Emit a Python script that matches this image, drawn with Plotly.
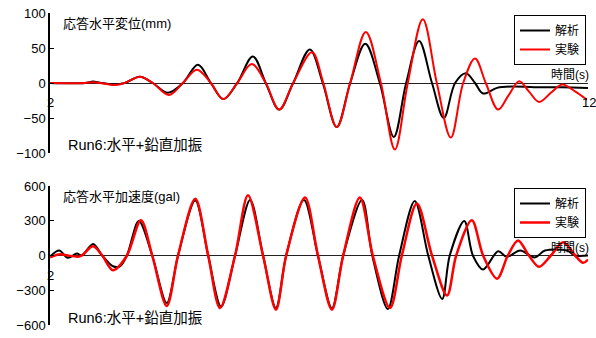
import plotly.graph_objects as go

# ---- Response horizontal displacement (mm) ----
disp_calc_t = [2.00, 2.65, 2.80, 2.93, 3.21, 3.39, 3.67, 3.91, 4.19, 4.47, 4.75, 4.99, 5.22, 5.48,
               5.77, 6.01, 6.26, 6.52, 6.83, 7.07, 7.33, 7.58, 7.86, 8.13, 8.39, 8.62, 8.86, 9.10,
               9.32, 9.53, 9.73, 9.90, 10.05, 10.31, 10.60, 11.00, 11.50, 12.00]
disp_calc = [0, 0, 2, 0.5, -2, 0, 9, 0, -14, 0, 26, 0, -23, 0,
             38, 0, -38, 0, 48, 0, -63, 0, 56, 0, -77, 0, 60, 0,
             -50, 0, 14, 0, -15, -7, -5, -6, -6, -7]

disp_exp_t = [2.00, 2.65, 2.80, 2.93, 3.21, 3.39, 3.67, 3.91, 4.21, 4.47, 4.73, 4.99, 5.22, 5.48,
              5.75, 6.01, 6.26, 6.52, 6.87, 7.08, 7.33, 7.58, 7.87, 8.15, 8.41, 8.65, 8.93, 9.19,
              9.45, 9.68, 9.90, 10.10, 10.33, 10.52, 10.72, 10.90, 11.09, 11.31, 11.52, 11.76, 11.98]
disp_exp = [0, 0, 1, 0, -3, 0, 9, 0, -17, 0, 19, 0, -23, 0,
            27, 0, -38, 0, 44, 0, -63, 0, 73, 0, -95, 0, 91, 0,
            -78, 0, 35, 0, -38, -18, 2.5, -12, -27, -14, -2, -12, -24]

# ---- Response horizontal acceleration (gal) ----
acc_calc_t = [2.00, 2.17, 2.33, 2.50, 2.59, 2.80, 2.97, 3.17, 3.30, 3.43, 3.65, 3.90, 4.17, 4.38,
              4.70, 4.94, 5.18, 5.44, 5.72, 5.96, 6.20, 6.39, 6.72, 6.98, 7.24, 7.45, 7.80, 7.99,
              8.28, 8.49, 8.78, 9.03, 9.29, 9.43, 9.70, 9.86, 10.05, 10.33, 10.49, 10.74, 11.01,
              11.20, 11.61, 11.76, 12.00]
acc_calc = [-10, 43, -20, 17, 0, 100, 0, -93, -93, 0, 297, 0, -410, 0,
            475, 0, -440, 0, 480, 0, -453, 0, 480, 0, -455, 0, 480, 0,
            -461, 0, 470, 0, -375, 0, 297, 0, -121, 37, -11, 43, -17,
            43, 43, 0, 0]

acc_exp_t = [2.00, 2.19, 2.33, 2.52, 2.59, 2.80, 2.97, 3.17, 3.43, 3.69, 3.90, 4.17, 4.38,
             4.70, 4.94, 5.16, 5.44, 5.68, 5.96, 6.20, 6.39, 6.74, 6.98, 7.24, 7.45, 7.76, 8.00,
             8.32, 8.54, 8.82, 9.10, 9.38, 9.55, 9.84, 10.05, 10.31, 10.51, 10.70, 10.90, 11.09,
             11.31, 11.54, 11.76, 11.91, 12.00]
acc_exp = [-15, 10, 0, -10, 0, 80, 0, -127, 0, 305, 0, -435, 0,
           490, 0, -453, 0, 520, 0, -468, 0, 500, 0, -468, 0, 500, 0,
           -453, 0, 450, 0, -346, 0, 305, 0, -200, 0, 130, 0, -98,
           0, 115, 0, -63, -35]

disp_ticks = [-100, -50, 0, 50, 100]
acc_ticks = [-600, -300, 0, 300, 600]
time_range = [2, 12]
name_calc = "解析"
name_exp = "実験"

FONT = "Liberation Sans, Arial, Noto Sans CJK JP, sans-serif"
W, H = 596, 338
X0, X1 = 50 / W, 588 / W


def py(px):
    """Convert a pixel row (from top) to paper y."""
    return 1 - px / H


fig = go.Figure()

fig.add_trace(go.Scatter(x=disp_calc_t, y=disp_calc, name=name_calc, mode="lines",
                         line=dict(color="black", width=2, shape="spline", smoothing=1.0),
                         xaxis="x", yaxis="y", legend="legend"))
fig.add_trace(go.Scatter(x=disp_exp_t, y=disp_exp, name=name_exp, mode="lines",
                         line=dict(color="#ff0000", width=2, shape="spline", smoothing=1.0),
                         xaxis="x", yaxis="y", legend="legend"))
fig.add_trace(go.Scatter(x=acc_calc_t, y=acc_calc, name=name_calc, mode="lines",
                         line=dict(color="black", width=2, shape="spline", smoothing=0.9),
                         xaxis="x2", yaxis="y2", legend="legend2"))
fig.add_trace(go.Scatter(x=acc_exp_t, y=acc_exp, name=name_exp, mode="lines",
                         line=dict(color="#ff0000", width=2.5, shape="spline", smoothing=0.9),
                         xaxis="x2", yaxis="y2", legend="legend2"))

xax = dict(range=time_range, showline=False, showticklabels=False, ticks="",
           showgrid=False, zeroline=False, fixedrange=True, domain=[X0, X1],
           automargin=False)
yax = dict(showline=True, linecolor="black", linewidth=1.5, ticks="inside", ticklen=4,
           tickcolor="black", showgrid=False, zeroline=True, zerolinecolor="#222",
           zerolinewidth=1, automargin=False,
           tickfont=dict(size=13, color="black", family=FONT))

legend_style = dict(bgcolor="white", bordercolor="black", borderwidth=1,
                    font=dict(size=12, color="black", family=FONT),
                    xanchor="left", yanchor="top", tracegroupgap=0, itemwidth=30)

fig.update_layout(
    width=W, height=H, margin=dict(l=0, r=0, t=0, b=0, autoexpand=False),
    paper_bgcolor="white", plot_bgcolor="white",
    font=dict(family=FONT, color="black"),
    xaxis=dict(xax, anchor="y"),
    yaxis=dict(yax, domain=[py(153), py(13)], range=[-100, 100],
               tickvals=disp_ticks, anchor="x"),
    xaxis2=dict(xax, anchor="y2"),
    yaxis2=dict(yax, domain=[py(325), py(186)], range=[-600, 600],
                tickvals=acc_ticks, anchor="x2"),
    legend=dict(legend_style, x=514 / W, y=py(15)),
    legend2=dict(legend_style, x=514 / W, y=py(188)),
    showlegend=True,
)

annos = []
# panel titles and case labels
for xr, yr, title, ty, ry in [("x", "y", "応答水平変位(mm)", 23, 145),
                              ("x2", "y2", "応答水平加速度(gal)", 196, 318)]:
    annos.append(dict(xref="paper", yref="paper", x=61 / W, y=py(ty),
                      text=title, showarrow=False, xanchor="left", yanchor="middle",
                      font=dict(size=13, family=FONT)))
    annos.append(dict(xref="paper", yref="paper", x=66 / W, y=py(ry),
                      text="Run6:水平+鉛直加振", showarrow=False, xanchor="left",
                      yanchor="middle", font=dict(size=14.5, family=FONT)))
    annos.append(dict(xref=xr, yref=yr, x=time_range[1], y=0, text="時間(s)",
                      showarrow=False, xanchor="right", yanchor="bottom", xshift=3, yshift=-1,
                      font=dict(size=12, family=FONT)))
    annos.append(dict(xref=xr, yref=yr, x=time_range[0], y=0, text=str(time_range[0]),
                      showarrow=False, xanchor="center", yanchor="middle", yshift=-20,
                      font=dict(size=13, family=FONT)))
annos.append(dict(xref="x", yref="y", x=time_range[1], y=0, text=str(time_range[1]),
                  showarrow=False, xanchor="center", yanchor="middle", yshift=-20, xshift=1,
                  font=dict(size=13, family=FONT)))
fig.update_layout(annotations=annos)

fig.write_html("out.html")
